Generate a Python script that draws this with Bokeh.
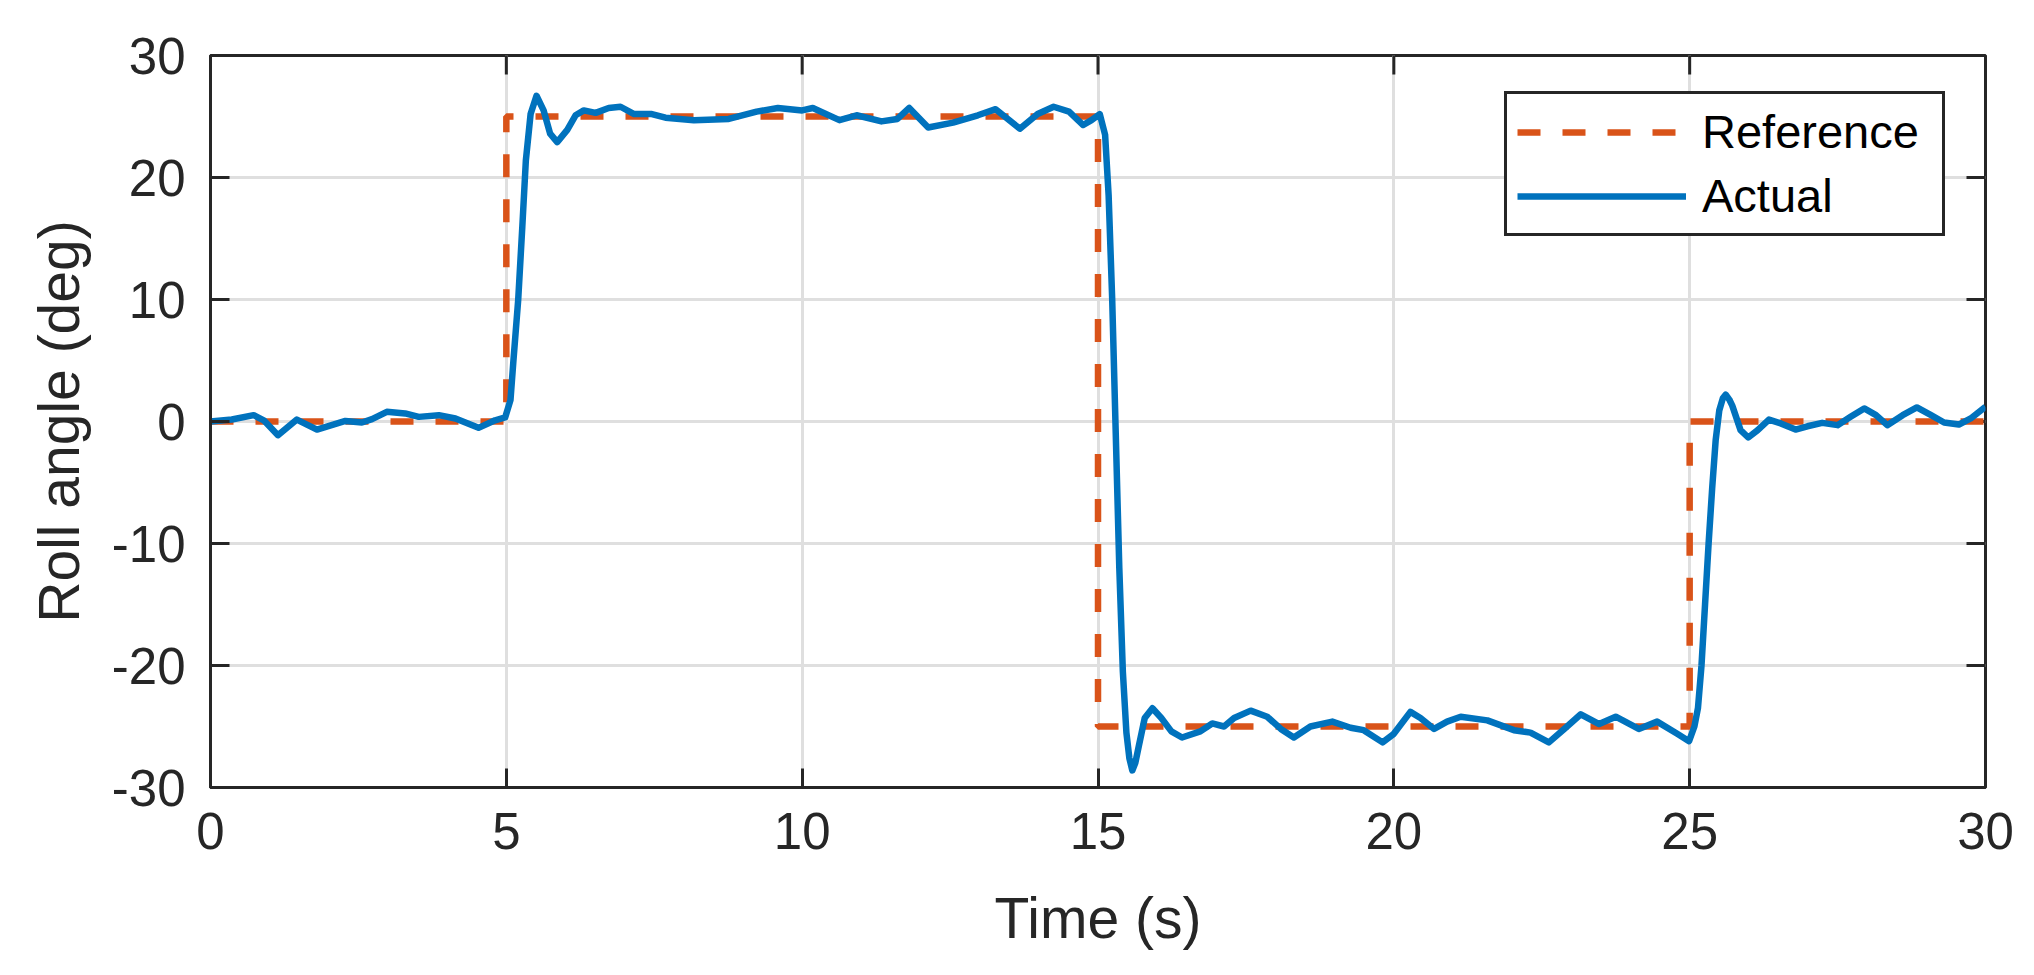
import math
from bokeh.plotting import figure
from bokeh.models import FixedTicker, Range1d, Legend, LegendItem
from bokeh.embed import file_html
from bokeh.resources import INLINE

# ---- data ----
time_ref = [0, 5, 5, 15, 15, 25, 25, 30]
roll_ref = [0, 0, 25, 25, -25, -25, 0, 0]

time_act = [0.0, 0.36, 0.73, 0.90, 1.14, 1.46, 1.80, 2.28, 2.56, 2.73, 2.98, 3.29, 3.52, 3.86,
            4.14, 4.53, 4.81, 4.98, 5.07, 5.12, 5.20, 5.27, 5.33, 5.41, 5.51, 5.63, 5.74, 5.86,
            6.03, 6.17, 6.31, 6.51, 6.73, 6.93, 7.16, 7.46, 7.69, 8.17, 8.76, 9.23, 9.59, 10.0,
            10.18, 10.63, 10.92, 11.34, 11.61, 11.81, 12.13, 12.55, 12.97, 13.27, 13.68, 13.98,
            14.25, 14.51, 14.75, 14.89, 15.03, 15.12, 15.18, 15.24, 15.30, 15.36, 15.42, 15.48,
            15.53, 15.58, 15.63, 15.69, 15.79, 15.92, 16.07, 16.24, 16.42, 16.73, 16.93, 17.13,
            17.30, 17.58, 17.86, 18.09, 18.31, 18.59, 18.96, 19.27, 19.49, 19.81, 20.0, 20.28,
            20.45, 20.68, 20.9, 21.13, 21.58, 22.03, 22.31, 22.62, 22.88, 23.16, 23.47, 23.75,
            24.14, 24.45, 24.79, 24.99, 25.08, 25.14, 25.20, 25.26, 25.32, 25.38, 25.44, 25.50,
            25.56, 25.61, 25.67, 25.72, 25.86, 25.99, 26.15, 26.34, 26.54, 26.79, 26.99, 27.24,
            27.5, 27.72, 27.95, 28.15, 28.34, 28.6, 28.84, 29.08, 29.3, 29.55, 29.75, 30.0]
roll_act = [0.0, 0.16, 0.52, 0.1, -1.12, 0.16, -0.66, 0.05, -0.08, 0.19, 0.79, 0.66, 0.38, 0.52,
            0.25, -0.52, 0.1, 0.33, 1.75, 5.0, 9.94, 15.95, 21.4, 25.2, 26.7, 25.5, 23.6, 22.9,
            23.9, 25.1, 25.5, 25.3, 25.7, 25.8, 25.2, 25.2, 24.9, 24.7, 24.8, 25.4, 25.7, 25.5,
            25.7, 24.7, 25.1, 24.6, 24.8, 25.7, 24.1, 24.5, 25.1, 25.6, 24.0, 25.2,
            25.8, 25.4, 24.3, 24.7, 25.2, 23.5, 18.5, 10.0, -1.0, -12.0, -20.5, -25.5,
            -27.6, -28.6, -28.0, -26.6, -24.3, -23.5, -24.3, -25.4, -25.9, -25.4, -24.75, -25.0,
            -24.3, -23.7, -24.2, -25.2, -25.9, -25.0, -24.6, -25.1, -25.3, -26.3, -25.6, -23.8,
            -24.3, -25.2, -24.6, -24.2, -24.5, -25.3, -25.5, -26.3, -25.2, -24.0, -24.8, -24.2,
            -25.2, -24.6, -25.6, -26.2, -25.0, -23.5, -20.0, -15.0, -10.0, -5.5, -1.5, 0.9,
            1.9, 2.2, 1.8, 1.3, -0.71, -1.31, -0.71, 0.16, -0.16, -0.66, -0.39, -0.11,
            -0.3, 0.38, 1.07, 0.52, -0.3, 0.52, 1.15, 0.52, -0.08, -0.25, 0.25, 1.2]

x_ticks = [0, 5, 10, 15, 20, 25, 30]
x_tick_labels = ["0", "5", "10", "15", "20", "25", "30"]
y_ticks = [-30, -20, -10, 0, 10, 20, 30]
y_tick_labels = ["-30", "-20", "-10", "0", "10", "20", "30"]

# ---- styles ----
AX = "#262626"
FONT = "Liberation Sans"
BLUE = "#0072BD"
ORANGE = "#D95319"
TICK_LEN = 19

x_lo, x_hi = x_ticks[0], x_ticks[-1]
y_lo, y_hi = y_ticks[0], y_ticks[-1]

p = figure(width=2018, height=959, output_backend="svg", toolbar_location=None,
           x_range=Range1d(x_lo, x_hi), y_range=Range1d(y_lo, y_hi),
           min_border_left=210, min_border_right=33, min_border_top=55, min_border_bottom=172)
p.background_fill_color = "white"
p.border_fill_color = "white"
p.outline_line_color = AX
p.outline_line_width = 3
p.outline_line_alpha = 1.0


def style_axis(ax, ticks, labels):
    ax.ticker = FixedTicker(ticks=ticks)
    ax.major_label_overrides = {t: s for t, s in zip(ticks, labels)}
    ax.axis_line_color = AX
    ax.axis_line_width = 3
    ax.major_tick_line_color = AX
    ax.major_tick_line_width = 3
    ax.major_tick_in = TICK_LEN
    ax.major_tick_out = 0
    ax.minor_tick_line_color = None
    ax.major_label_text_font = FONT
    ax.major_label_text_font_size = "51px"
    ax.major_label_text_color = AX
    ax.axis_label_text_font = FONT
    ax.axis_label_text_font_size = "57px"
    ax.axis_label_text_font_style = "normal"
    ax.axis_label_text_color = AX


xa = p.xaxis[0]
ya = p.yaxis[0]
style_axis(xa, x_ticks, x_tick_labels)
style_axis(ya, y_ticks, y_tick_labels)
xa.axis_label = "Time (s)"
ya.axis_label = "Roll angle (deg)"
xa.major_label_standoff = 25
ya.major_label_standoff = 25
xa.axis_label_standoff = 34
ya.axis_label_standoff = 18

p.xgrid.ticker = FixedTicker(ticks=x_ticks)
p.ygrid.ticker = FixedTicker(ticks=y_ticks)
for g in (p.xgrid[0], p.ygrid[0]):
    g.grid_line_color = "#dfdfdf"
    g.grid_line_width = 3

# mirrored inside ticks on the top and right edges of the box
p.ray(x=x_ticks, y=[y_hi] * len(x_ticks), length=TICK_LEN, length_units="screen",
      angle=-math.pi / 2, line_color=AX, line_width=3)
p.ray(x=[x_hi] * len(y_ticks), y=y_ticks, length=TICK_LEN, length_units="screen",
      angle=math.pi, line_color=AX, line_width=3)

r_ref = p.line(time_ref, roll_ref, line_color=ORANGE, line_width=6.5, line_dash="23 22")
r_act = p.line(time_act, roll_act, line_color=BLUE, line_width=6.5, line_join="round")

legend = Legend(items=[LegendItem(label="Reference", renderers=[r_ref]),
                       LegendItem(label="Actual", renderers=[r_act])],
                location=(1294, 551))
legend.label_text_font = FONT
legend.label_text_font_size = "47px"
legend.label_text_color = "black"
legend.glyph_width = 169
legend.glyph_height = 50
legend.label_standoff = 16
legend.label_width = 230
legend.padding = 10
legend.spacing = 9
legend.border_line_color = AX
legend.border_line_width = 3
legend.border_line_alpha = 1.0
legend.background_fill_color = "white"
legend.background_fill_alpha = 1.0
p.add_layout(legend)

open("out.html", "w").write(file_html(p, INLINE))
